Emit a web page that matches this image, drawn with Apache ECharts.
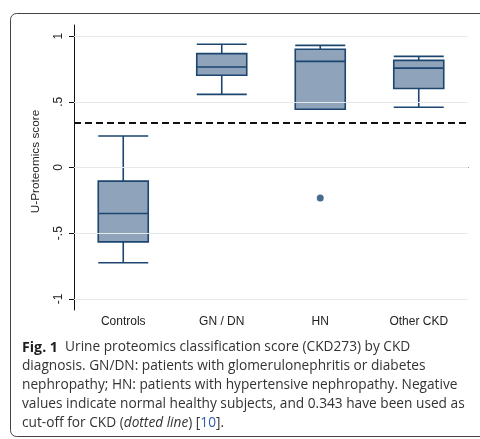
<!DOCTYPE html>
<html>
<head>
<meta charset="utf-8">
<script src="https://cdn.jsdelivr.net/npm/echarts@6/dist/echarts.min.js"></script>
<style>
  html, body { margin: 0; padding: 0; background: #fff; }
  #chart { width: 480px; height: 439px; }
</style>
</head>
<body>
<div id="chart"></div>
<script>
// CKD273 urine proteomics score by diagnosis group
const categories = ['Controls', 'GN / DN', 'HN', 'Other CKD'];
// [lower whisker, Q1, median, Q3, upper whisker]
const boxValues = [
  [-0.725, -0.566, -0.350, -0.104, 0.240],
  [0.557, 0.702, 0.765, 0.867, 0.938],
  [0.443, 0.443, 0.808, 0.900, 0.930],
  [0.459, 0.601, 0.757, 0.816, 0.846]
];
// outside values: [group, score]
const outliers = [['HN', -0.233]];
const yTicks = [-1, -0.5, 0, 0.5, 1];
const yTickLabels = ['-1', '-.5', '0', '.5', '1'];
const cutoff = 0.343;

const navy = '#1c466f';
const fill = '#8fa3ba';
const axisFont = 'Liberation Sans, Arial, sans-serif';
const captionFont = '"Open Sans", "Noto Sans", sans-serif';
const captionSize = 13.7;

const chart = echarts.init(document.getElementById('chart'), null, { renderer: 'canvas' });

const captionLines = [
  '{b|Fig. 1}  Urine proteomics classification score (CKD273) by CKD',
  'diagnosis. GN/DN: patients with glomerulonephritis or diabetes',
  'nephropathy; HN: patients with hypertensive nephropathy. Negative',
  'values indicate normal healthy subjects, and 0.343 have been used as',
  'cut-off for CKD ({i|dotted line}) [{l|10}].'
];
const captionRich = {
  b: { fontFamily: captionFont, fontSize: 14.2, fontWeight: 'bold', fill: '#1e1e1e' },
  i: { fontFamily: captionFont, fontSize: captionSize, fontStyle: 'italic', fill: '#333' },
  l: { fontFamily: captionFont, fontSize: captionSize, fill: '#2a5db0' }
};

chart.setOption({
  animation: false,
  backgroundColor: '#fff',
  grid: { left: 74, right: 12, top: 25, bottom: 129, containLabel: false },
  xAxis: {
    type: 'category',
    data: categories,
    boundaryGap: true,
    axisLine: { show: true, lineStyle: { color: '#111', width: 1 } },
    axisTick: { show: false },
    axisLabel: { color: '#222', fontSize: 12, fontFamily: axisFont, margin: 6 },
    splitLine: { show: false }
  },
  yAxis: {
    type: 'value',
    min: -1.085,
    max: 1.085,
    name: 'U-Proteomics score',
    nameLocation: 'middle',
    nameGap: 32,
    nameTextStyle: { color: '#222', fontSize: 11.8, fontFamily: axisFont, padding: [0, 0, 0, 12] },
    axisLine: { show: true, lineStyle: { color: '#111', width: 1 } },
    axisTick: { show: true, length: 5, customValues: yTicks, lineStyle: { color: '#111' } },
    axisLabel: {
      customValues: yTicks,
      rotate: 90,
      margin: 9,
      color: '#222',
      fontSize: 12,
      fontFamily: axisFont,
      formatter: (v) => yTickLabels[yTicks.findIndex((t) => Math.abs(t - v) < 1e-9)] ?? ''
    },
    splitLine: { show: false }
  },
  series: [
    {
      // horizontal reference lines at the labelled ticks
      type: 'line',
      data: [],
      z: 1,
      silent: true,
      markLine: {
        silent: true,
        symbol: 'none',
        label: { show: false },
        lineStyle: { color: '#e6e9ec', type: 'solid', width: 1 },
        data: yTicks.map((t) => ({ yAxis: t }))
      }
    },
    {
      type: 'boxplot',
      z: 3,
      data: boxValues,
      boxWidth: [50, 50],
      itemStyle: { color: fill, borderColor: navy, borderWidth: 1.6 },
      markLine: {
        silent: true,
        symbol: 'none',
        label: { show: false },
        lineStyle: { color: '#111', type: [7, 4], width: 2 },
        data: [{ yAxis: cutoff }]
      }
    },
    {
      type: 'scatter',
      z: 4,
      data: outliers,
      symbol: 'circle',
      symbolSize: 7,
      itemStyle: { color: navy }
    }
  ],
  graphic: [
    {
      type: 'rect',
      shape: { x: 10.5, y: 13.5, width: 480, height: 423, r: 6 },
      style: { fill: 'none', stroke: '#444', lineWidth: 1 },
      z: 0
    },
    ...captionLines.map((line, i) => ({
      type: 'text',
      x: 22,
      y: 347.5 + i * 19,
      z: 5,
      style: {
        text: line,
        rich: captionRich,
        fontFamily: captionFont,
        fontSize: captionSize,
        fill: '#333',
        verticalAlign: 'middle'
      }
    }))
  ]
});
</script>
</body>
</html>
